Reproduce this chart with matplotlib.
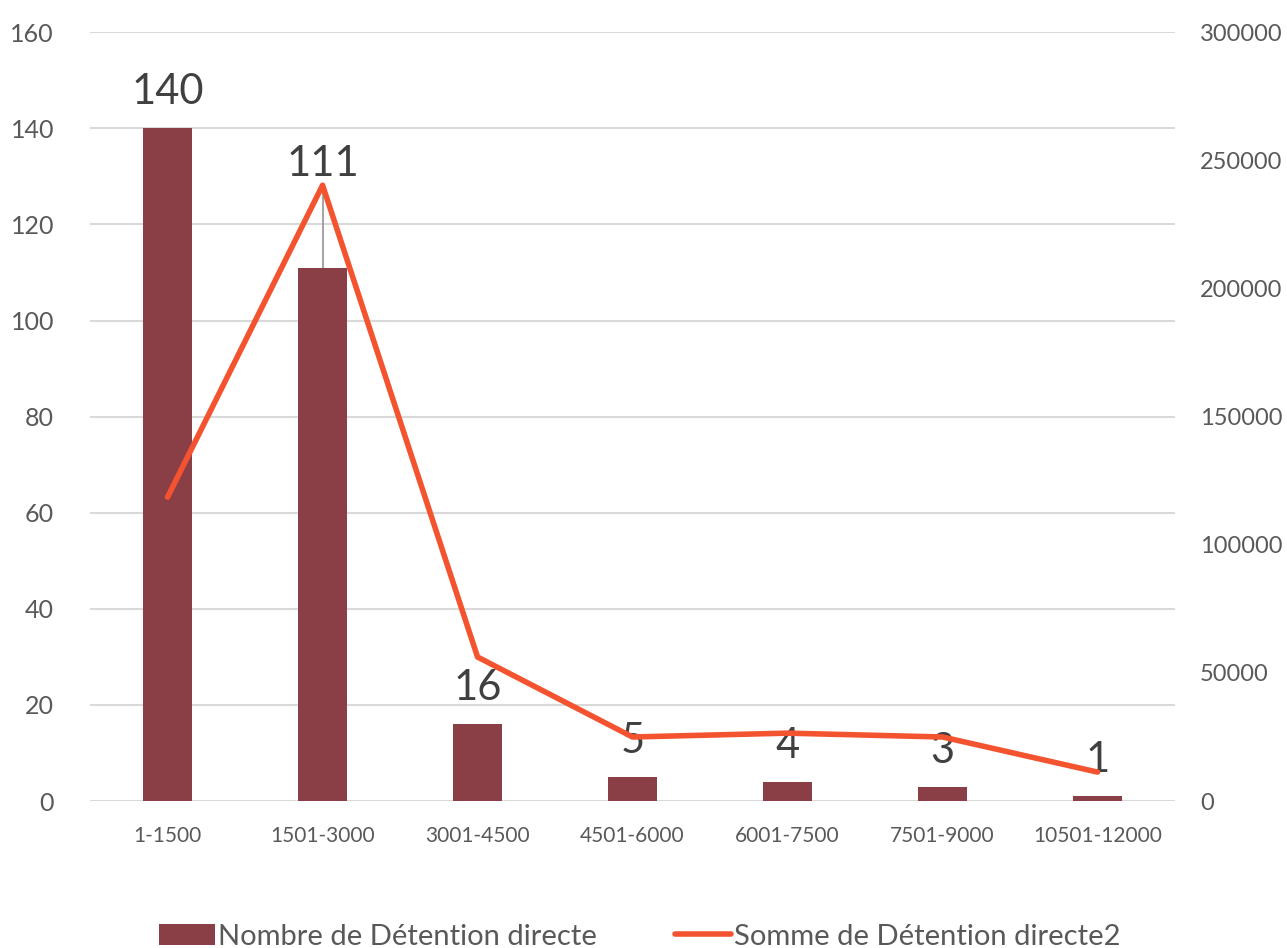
import matplotlib
matplotlib.use('Agg')
import matplotlib.pyplot as plt
import numpy as np

plt.rcParams['font.family'] = ['Lato', 'DejaVu Sans']

categories = ['1-1500', '1501-3000', '3001-4500', '4501-6000', '6001-7500', '7501-9000', '10501-12000']
nombre = [140, 111, 16, 5, 4, 3, 1]
somme = [118600, 240300, 56200, 25000, 26500, 25000, 11300]

bar_color = '#8A3E46'
line_color = '#F4532F'
grid_color = '#D9D9D9'
tick_color = '#595959'
label_color = '#404040'

fig = plt.figure(figsize=(12.87, 9.48), dpi=100)
ax = fig.add_axes([0.070, 0.155, 0.843, 0.811])
ax2 = ax.twinx()

x = np.arange(len(categories))
ax.bar(x, nombre, width=0.32, color=bar_color, zorder=2, label='Nombre de Détention directe')
ax2.plot(x, somme, color=line_color, lw=4, solid_capstyle='round', solid_joinstyle='round',
         zorder=3, label='Somme de Détention directe2')

ax.set_ylim(0, 160)
ax2.set_ylim(0, 300000)
ax.set_xlim(-0.5, len(categories) - 0.5)
ax.set_yticks(np.arange(0, 161, 20))
ax2.set_yticks(np.arange(0, 300001, 50000))
ax.yaxis.grid(True, color=grid_color, lw=1.5, zorder=0)
ax.set_axisbelow(True)

for a in (ax, ax2):
    for s in a.spines.values():
        s.set_visible(False)
    a.tick_params(length=0)
ax.tick_params(axis='y', labelsize=18, labelcolor=tick_color, pad=26)
ax2.tick_params(axis='y', labelsize=17, labelcolor=tick_color, pad=18)
ax.set_xticks(x)
ax.set_xticklabels(categories)
ax.tick_params(axis='x', labelsize=15, labelcolor=tick_color, pad=18)

# data labels
scale = 160 / 300000
for i, v in enumerate(nombre):
    if i == 1:
        top = somme[i] * scale
        ax.plot([i, i], [v, top], color='#A6A6A6', lw=1.5, zorder=1)
        ax.annotate(str(v), (i, top), xytext=(0, 15), textcoords='offset points',
                    ha='center', va='center', fontsize=30, color=label_color, zorder=5)
    else:
        ax.annotate(str(v), (i, v), xytext=(0, 26), textcoords='offset points',
                    ha='center', va='center', fontsize=30, color=label_color, zorder=5)

h1, l1 = ax.get_legend_handles_labels()
h2, l2 = ax2.get_legend_handles_labels()
fig.legend(h1 + h2, l1 + l2, loc='center', bbox_to_anchor=(0.497, 0.012), ncol=2, frameon=False,
           fontsize=21, labelcolor=tick_color, handlelength=1.9, handletextpad=0.1, columnspacing=2.7)

fig.savefig('out.png', dpi=100)
